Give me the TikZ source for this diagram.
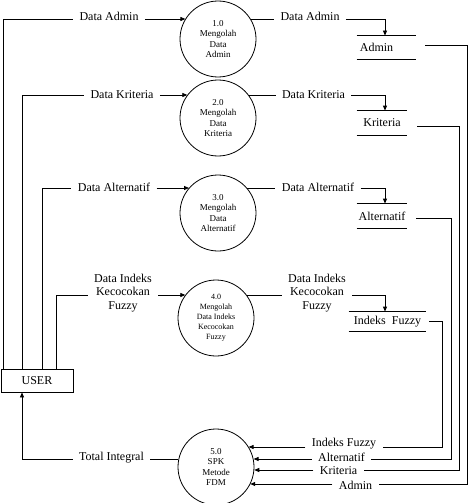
\documentclass[tikz,border=0pt]{standalone}
\usepackage{fontspec}
\setmainfont{Liberation Serif}
\usetikzlibrary{arrows.meta}
\begin{document}
\begin{tikzpicture}[x=1pt,y=-1pt,line width=0.8pt,
  every node/.style={inner sep=0pt, font=\fontsize{12}{13.5}\selectfont},
  proc/.style={draw, circle, minimum size=76pt, align=center, font=\fontsize{9}{10.5}\selectfont},
  lbl/.style={inner xsep=6pt, inner ysep=1pt, align=center},
  arr/.style={-{Triangle[length=5pt,width=4pt]}}]
\useasboundingbox (0,0) rectangle (468,503);

% processes
\node[proc] (c1) at (218,39) {1.0\\Mengolah\\Data\\Admin};
\node[proc] (c2) at (218,118) {2.0\\Mengolah\\Data\\Kriteria};
\node[proc] (c3) at (218,213) {3.0\\Mengolah\\Data\\Alternatif};
\node[proc, font=\fontsize{8}{10}\selectfont] (c4) at (216,318) {4.0\\Mengolah\\Data Indeks\\Kecocokan\\Fuzzy};
\node[proc] (c5) at (216,467) {5.0\\SPK\\Metode\\FDM};

% external entity
\node[draw, minimum width=72pt, minimum height=23pt] (user) at (37,380.5) {USER};

% data stores
\node[minimum width=59pt, minimum height=23pt] (s1) at (386.5,47.5) {Admin\hspace*{20pt}};
\node[minimum width=50pt, minimum height=24pt] (s2) at (382,123) {Kriteria};
\node[minimum width=50pt, minimum height=24pt] (s3) at (382,216) {Alternatif};
\node[minimum width=77pt, minimum height=19pt] (s4) at (387.5,321.5) {Indeks\ \ Fuzzy};
\foreach \s in {s1,s2,s3,s4}{
  \draw (\s.north west) -- (\s.north east) (\s.south west) -- (\s.south east);
}

% labels left
\node[lbl] (la1) at (109,16) {Data Admin};
\node[lbl] (la2) at (122,95) {Data Kriteria};
\node[lbl] (la3) at (114,187) {Data Alternatif};
\node[lbl] (la4) at (123,293) {Data Indeks\\Kecocokan\\Fuzzy};
% labels right
\node[lbl] (ra1) at (310,16) {Data Admin};
\node[lbl] (ra2) at (313.5,95) {Data Kriteria};
\node[lbl] (ra3) at (318,187) {Data Alternatif};
\node[lbl] (ra4) at (317,293) {Data Indeks\\Kecocokan\\Fuzzy};
% labels bottom
\node[lbl] (rb4) at (344,444) {Indeks Fuzzy};
\node[lbl] (rb3) at (341.5,457.5) {Alternatif};
\node[lbl] (rb2) at (338.5,471) {Kriteria};
\node[lbl] (rb1) at (355.5,485) {Admin};
\node[lbl] (lb5) at (111.5,458) {Total Integral};

% USER -> processes
\coordinate (u1) at (3,19);
\coordinate (u2) at (22,95);
\coordinate (u3) at (42,188);
\coordinate (u4) at (56,295);
\draw (u1 |- user.north) -- (u1) -- (la1.west |- u1);
\draw[arr] (la1.east |- u1) -- (u1 -| c1.148);
\draw (u2 |- user.north) -- (u2) -- (la2.west |- u2);
\draw[arr] (la2.east |- u2) -- (u2 -| c2.143);
\draw (u3 |- user.north) -- (u3) -- (la3.west |- u3);
\draw[arr] (la3.east |- u3) -- (u3 -| c3.139);
\draw (u4 |- user.north) -- (u4) -- (la4.west |- u4);
\draw[arr] (la4.east |- u4) -- (u4 -| c4.143);

% processes -> stores
\coordinate (d1) at (385,19);
\coordinate (d2) at (385,95);
\coordinate (d3) at (385,188);
\coordinate (d4) at (385,295);
\draw (d1 -| c1.32) -- (ra1.west |- d1);
\draw[arr] (ra1.east |- d1) -- (d1) -- (d1 |- s1.north);
\draw (d2 -| c2.37) -- (ra2.west |- d2);
\draw[arr] (ra2.east |- d2) -- (d2) -- (d2 |- s2.north);
\draw (d3 -| c3.41) -- (ra3.west |- d3);
\draw[arr] (ra3.east |- d3) -- (d3) -- (d3 |- s3.north);
\draw (d4 -| c4.37) -- (ra4.west |- d4);
\draw[arr] (ra4.east |- d4) -- (d4) -- (d4 |- s4.north);

% stores -> process 5
\coordinate (e1) at (467,484);
\coordinate (e2) at (459,470);
\coordinate (e3) at (451,459);
\coordinate (e4) at (442,447);
\draw ([xshift=9pt,yshift=2pt]s1.east) -| (e1) -- (rb1.east |- e1);
\draw[arr] (rb1.west |- e1) -- (e1 -| c5.333);
\draw ([xshift=10pt,yshift=-3pt]s2.east) -| (e2) -- (rb2.east |- e2);
\draw[arr] (rb2.west |- e2) -- (e2 -| c5.355);
\draw ([xshift=9pt,yshift=-2pt]s3.east) -| (e3) -- (rb3.east |- e3);
\draw[arr] (rb3.west |- e3) -- (e3 -| c5.12);
\draw ([xshift=3pt]s4.east) -| (e4) -- (rb4.east |- e4);
\draw[arr] (rb4.west |- e4) -- (e4 -| c5.32);

% process 5 -> USER
\coordinate (t) at (22,459);
\draw (t -| c5.168) -- (lb5.east |- t);
\draw[arr] (lb5.west |- t) -- (t) -- (t |- user.south);
\end{tikzpicture}
\end{document}
